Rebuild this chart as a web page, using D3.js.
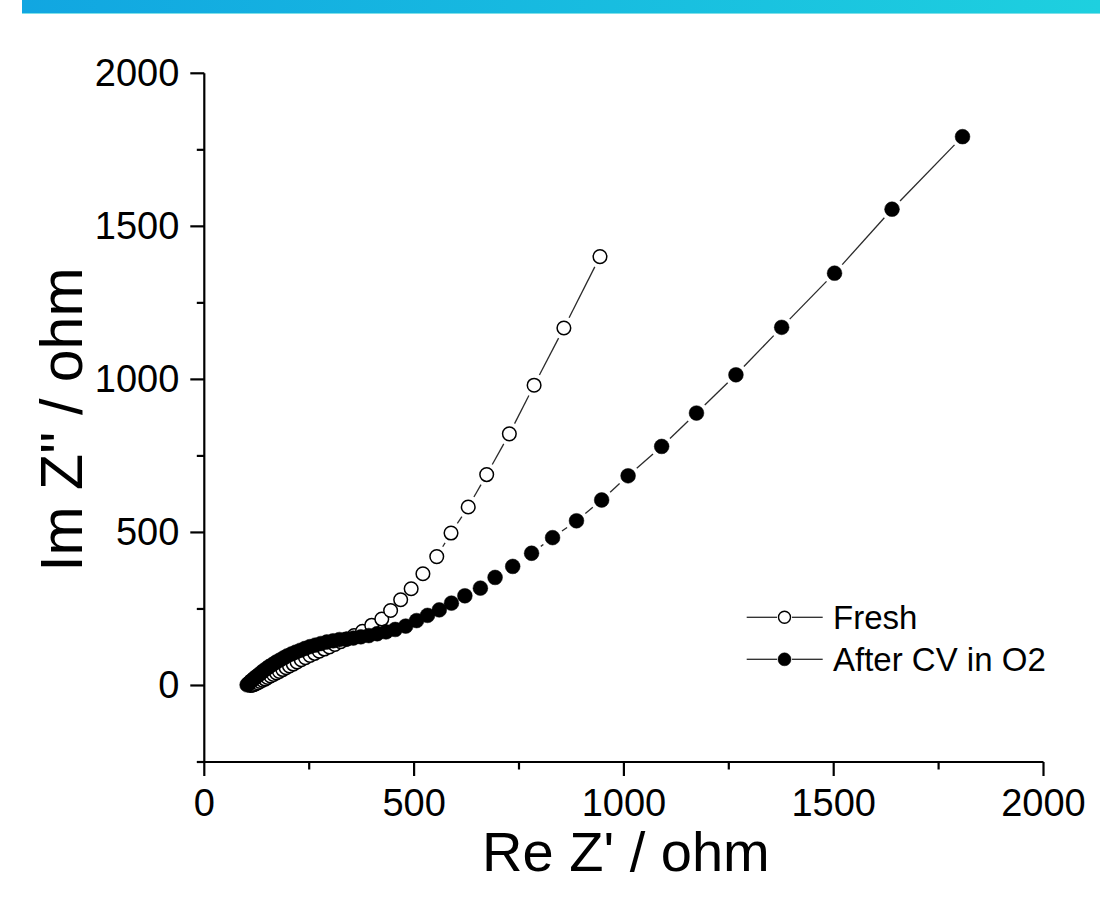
<!DOCTYPE html>
<html>
<head>
<meta charset="utf-8">
<script src="https://cdn.jsdelivr.net/npm/d3@7/dist/d3.min.js"></script>
<style>
  html, body { margin: 0; padding: 0; background: #ffffff; }
  svg { display: block; }
  text { font-family: "Liberation Sans", Arial, sans-serif; fill: #000; }
</style>
</head>
<body>
<svg id="chart" width="1100" height="901"></svg>
<script>
// Nyquist plot: impedance spectra, fresh electrode vs. after CV in O2 (ohm)
const freshRe = [110,114,118,123,128,133,139,145,151,158,165,172,179,187,195,203,212,221,231,241,252,263,274,286,298,311,325,340,357,377,399,423,444,468,493,521,554,588,629,673,727,786,857,943];
const freshIm = [0,1,3,6,9,13,17,21,26,31,36,41,46,52,58,64,70,77,84,91,98,105,112,119,126,134,143,152,163,177,197,217,245,280,316,365,421,498,583,689,822,981,1168,1401];

const cvRe = [102,105,109,113,118,123,129,135,141,148,155,163,171,180,189,198,208,218,229,240,252,265,278,292,307,322,338,355,373,392,412,433,455,480,506,532,560,589,621,658,693,735,780,830,887,947,1010,1090,1173,1267,1376,1502,1639,1807];
const cvIm = [2,6,11,16,22,28,34,41,48,55,62,69,76,83,90,97,103,109,115,121,127,132,137,142,146,150,151,155,159,163,169,175,183,194,212,229,247,269,293,318,353,389,432,483,538,606,685,781,890,1015,1170,1347,1556,1793];

const xMajor = [0, 500, 1000, 1500, 2000];
const xMinor = [250, 750, 1250, 1750];
const yMajor = [0, 500, 1000, 1500, 2000];
const yMinor = [-250, 250, 750, 1250, 1750];

const seriesNames = ["Fresh", "After CV in O2"];
const xTitle = "Re Z' / ohm";
const yTitle = "Im Z'' / ohm";

const svg = d3.select("#chart");

// header band
const defs = svg.append("defs");
const grad = defs.append("linearGradient").attr("id", "band").attr("x1", "0").attr("x2", "1");
grad.append("stop").attr("offset", "0").attr("stop-color", "#11a6e1");
grad.append("stop").attr("offset", "1").attr("stop-color", "#1ed0df");
svg.append("rect").attr("x", 22).attr("y", 0).attr("width", 1078).attr("height", 13).attr("fill", "url(#band)");
svg.append("rect").attr("x", 22).attr("y", 13).attr("width", 1078).attr("height", 1).attr("fill", "#7fe0e8");

const x = d3.scaleLinear().domain([0, 2000]).range([204.3, 1043.5]);
const y = d3.scaleLinear().domain([-250, 2000]).range([762, 73.3]);

const axisColor = "#000";
const tickFont = 38;

// axes lines
const g = svg.append("g");
g.append("line").attr("x1", x(0)).attr("x2", x(0)).attr("y1", y(2000)).attr("y2", y(-250))
  .attr("stroke", axisColor).attr("stroke-width", 2.2);
g.append("line").attr("x1", x(0)).attr("x2", x(2000)).attr("y1", y(-250)).attr("y2", y(-250))
  .attr("stroke", axisColor).attr("stroke-width", 2.2);

// x ticks
g.selectAll(".xmaj").data(xMajor).join("line")
  .attr("x1", d => x(d)).attr("x2", d => x(d))
  .attr("y1", y(-250)).attr("y2", y(-250) + 14)
  .attr("stroke", axisColor).attr("stroke-width", 2.2);
g.selectAll(".xmin").data(xMinor).join("line")
  .attr("x1", d => x(d)).attr("x2", d => x(d))
  .attr("y1", y(-250)).attr("y2", y(-250) + 7.5)
  .attr("stroke", axisColor).attr("stroke-width", 2.2);
g.selectAll(".xlab").data(xMajor).join("text")
  .attr("x", d => x(d)).attr("y", y(-250) + 54)
  .attr("text-anchor", "middle").attr("font-size", tickFont)
  .text(d => d);

// y ticks
g.selectAll(".ymaj").data(yMajor).join("line")
  .attr("x1", x(0) - 14).attr("x2", x(0))
  .attr("y1", d => y(d)).attr("y2", d => y(d))
  .attr("stroke", axisColor).attr("stroke-width", 2.2);
g.selectAll(".ymin").data(yMinor).join("line")
  .attr("x1", x(0) - 7.5).attr("x2", x(0))
  .attr("y1", d => y(d)).attr("y2", d => y(d))
  .attr("stroke", axisColor).attr("stroke-width", 2.2);
g.selectAll(".ylab").data(yMajor).join("text")
  .attr("x", x(0) - 25).attr("y", d => y(d) + 13)
  .attr("text-anchor", "end").attr("font-size", tickFont)
  .text(d => d);

// axis titles
svg.append("text").attr("x", (x(0) + x(2000)) / 2 + 2).attr("y", 871)
  .attr("text-anchor", "middle").attr("font-size", 56).text(xTitle);
svg.append("text")
  .attr("transform", `translate(82,${(y(2000) + y(-250)) / 2 + 2}) rotate(-90)`)
  .attr("text-anchor", "middle").attr("font-size", 59).text(yTitle);

// connecting lines that stop short of each marker
function gappedSegments(res, ims, gap) {
  const pts = res.map((r, i) => [x(r), y(ims[i])]);
  const segs = [];
  for (let i = 0; i < pts.length - 1; i++) {
    const [x1, y1] = pts[i], [x2, y2] = pts[i + 1];
    const dx = x2 - x1, dy = y2 - y1, d = Math.hypot(dx, dy);
    if (d > 2 * gap + 1) {
      const ux = dx / d, uy = dy / d;
      segs.push([x1 + ux * gap, y1 + uy * gap, x2 - ux * gap, y2 - uy * gap]);
    }
  }
  return segs;
}

const lineColor = "#2a2a2a";
const plot = svg.append("g");

function drawSeries(res, ims, filled) {
  const gs = plot.append("g");
  gs.selectAll("line").data(gappedSegments(res, ims, 11.5)).join("line")
    .attr("x1", d => d[0]).attr("y1", d => d[1]).attr("x2", d => d[2]).attr("y2", d => d[3])
    .attr("stroke", lineColor).attr("stroke-width", 1.3);
  gs.selectAll("circle").data(res.map((r, i) => [r, ims[i]])).join("circle")
    .attr("cx", d => x(d[0])).attr("cy", d => y(d[1]))
    .attr("r", filled ? 7.4 : 6.8)
    .attr("fill", filled ? "#000" : "#fff")
    .attr("stroke", "#000").attr("stroke-width", filled ? 0.5 : 1.5);
}

drawSeries(freshRe, freshIm, false);
drawSeries(cvRe, cvIm, true);

// legend
const legend = svg.append("g");
const legRows = [617.3, 659.3];
seriesNames.forEach((name, i) => {
  const ly = legRows[i];
  legend.append("line").attr("x1", 746.7).attr("x2", 777).attr("y1", ly).attr("y2", ly)
    .attr("stroke", lineColor).attr("stroke-width", 1.3);
  legend.append("line").attr("x1", 792).attr("x2", 822.7).attr("y1", ly).attr("y2", ly)
    .attr("stroke", lineColor).attr("stroke-width", 1.3);
  legend.append("circle").attr("cx", 784.5).attr("cy", ly).attr("r", i === 0 ? 6 : 6.5)
    .attr("fill", i === 0 ? "#fff" : "#000").attr("stroke", "#000").attr("stroke-width", i === 0 ? 1.4 : 0.5);
  legend.append("text").attr("x", 833).attr("y", ly + 11.5).attr("font-size", 33).text(name);
});
</script>
</body>
</html>
